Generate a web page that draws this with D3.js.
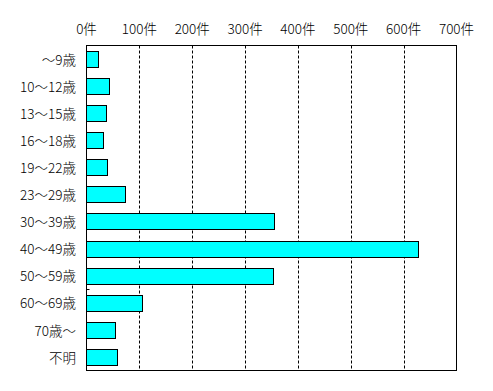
<!DOCTYPE html>
<html>
<head>
<meta charset="utf-8">
<script src="https://cdn.jsdelivr.net/npm/d3@7"></script>
<style>
  body { margin: 0; background: #fff; }
  text { font-family: "Noto Sans CJK JP", "DejaVu Sans", sans-serif; font-size: 13.5px; font-weight: 300; fill: #000; }
</style>
</head>
<body>
<div id="chart"></div>
<script>
const categories = ["～9歳", "10～12歳", "13～15歳", "16～18歳", "19～22歳", "23～29歳",
                    "30～39歳", "40～49歳", "50～59歳", "60～69歳", "70歳～", "不明"];
const counts = [23, 43, 38, 32, 40, 74, 355, 628, 353, 106, 55, 58];
const tickValues = [0, 100, 200, 300, 400, 500, 600, 700];

const w = 493, h = 391;
const plotLeft = 86.5, plotRight = 456.5, plotTop = 45.5, plotBottom = 370.5;

const svg = d3.select("#chart").append("svg")
  .attr("width", w)
  .attr("height", h);

const x = d3.scaleLinear().domain([0, 700]).range([plotLeft, plotRight]);
const y = d3.scaleBand().domain(categories).range([plotTop, plotBottom])
  .paddingInner(0.4).paddingOuter(0.2);

// dashed grid lines
svg.append("g")
  .selectAll("line")
  .data(tickValues.slice(1, -1))
  .enter().append("line")
  .attr("x1", d => Math.round(x(d)) + 0.5)
  .attr("x2", d => Math.round(x(d)) + 0.5)
  .attr("y1", plotTop)
  .attr("y2", plotBottom)
  .attr("stroke", "#000")
  .attr("stroke-dasharray", "3,2");

// tick labels on top
svg.append("g")
  .selectAll("text")
  .data(tickValues)
  .enter().append("text")
  .attr("x", d => x(d))
  .attr("y", 34)
  .attr("text-anchor", "middle")
  .text(d => d + "件");

// bars
svg.append("g")
  .selectAll("rect")
  .data(counts)
  .enter().append("rect")
  .attr("x", plotLeft)
  .attr("y", (d, i) => Math.round(y(categories[i])) + 0.5)
  .attr("width", d => Math.round(x(d) - plotLeft))
  .attr("height", Math.round(y.bandwidth()))
  .attr("fill", "#00ffff")
  .attr("stroke", "#000")
  .attr("stroke-width", 1);

// category labels
svg.append("g")
  .selectAll("text")
  .data(categories)
  .enter().append("text")
  .attr("x", 76)
  .attr("y", d => y(d) + y.bandwidth() / 2 + 2)
  .attr("text-anchor", "end")
  .attr("dominant-baseline", "middle")
  .text(d => d);

// frame
svg.append("rect")
  .attr("x", plotLeft)
  .attr("y", plotTop)
  .attr("width", plotRight - plotLeft)
  .attr("height", plotBottom - plotTop)
  .attr("fill", "none")
  .attr("stroke", "#000");

// stray small tick on the left axis
const ty = Math.round(y(categories[9]) - y.step() * y.paddingInner() / 2) + 0.5;
svg.append("line")
  .attr("x1", plotLeft).attr("x2", plotLeft + 3)
  .attr("y1", ty).attr("y2", ty)
  .attr("stroke", "#000");
</script>
</body>
</html>
